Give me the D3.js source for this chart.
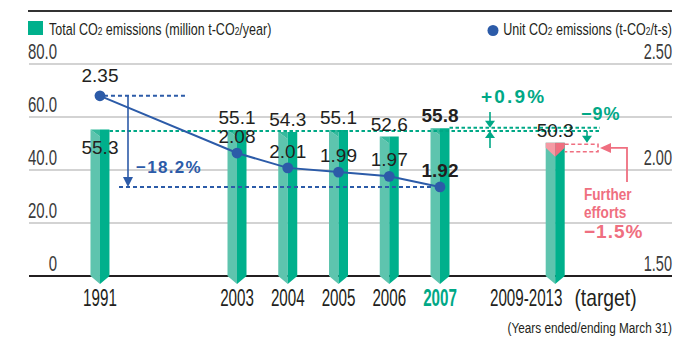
<!DOCTYPE html>
<html><head><meta charset="utf-8">
<script src="https://cdn.jsdelivr.net/npm/d3@7"></script>
<style>
html,body{margin:0;padding:0;background:#fff;}
svg{display:block;}
</style></head><body>
<svg id="chart" width="700" height="338"></svg>
<script>
// ---- data ----
const years = ["1991", "2003", "2004", "2005", "2006", "2007", "2009-2013"];
const totalEmissions = [55.3, 55.1, 54.3, 55.1, 52.6, 55.8, 50.3];
const unitEmissions = [2.35, 2.08, 2.01, 1.99, 1.97, 1.92];
const leftTicks = [0, 20, 40, 60, 80];
const leftTickLabels = ["0", "20.0", "40.0", "60.0", "80.0"];
const rightTicks = [1.5, 2.0, 2.5];
const rightTickLabels = ["1.50", "2.00", "2.50"];
const unitChangeLabel = "−18.2%";
const totalChangeLabel = "+0.9%";
const targetChangeLabel = "−9%";
const furtherEffortsLabel = "−1.5%";

// ---- layout ----
// position of each category along the axis, in units of one year step
const slot = [-2.7, 0, 1, 2, 3, 4, 6.27];
const SANS = '"Liberation Sans",Arial,sans-serif';
const GREEN_L = "#5ec4ae", GREEN_D = "#00b08c", GREEN_M = "#35b99c";
const GREEN_T = "#00a886";
const BLUE = "#2c5ba8";
const PINK = "#ef6f80", PINK_L = "#f59aa4";
const INK = "#231f20";

const svg = d3.select("#chart");
const x = d3.scaleLinear().domain([0, 4]).range([237, 440]);
const yL = d3.scaleLinear().domain([0, 80]).range([276, 64]);
const yR = d3.scaleLinear().domain([1.5, 2.5]).range([276, 64]);
const plotX0 = 29, plotX1 = 672;
const cx = i => x(slot[i]);
// horizontal squeeze giving a condensed face
const squeeze = (px, py, s) => `translate(${px},${py}) scale(${s},1)`;

function ctext(parent, px, py, size, s) {
  return parent.append("text").attr("transform", squeeze(px, py, s))
    .attr("font-family", SANS).attr("font-size", size);
}

// header rule
svg.append("line").attr("x1", 28).attr("x2", plotX1).attr("y1", 11).attr("y2", 11)
  .attr("stroke", "#333").attr("stroke-width", 2.2);

// legends
svg.append("rect").attr("x", 28).attr("y", 21).attr("width", 15).attr("height", 14).attr("fill", GREEN_D);
const lg1 = ctext(svg, 49, 34.5, 16.5, 0.76).attr("fill", INK);
lg1.append("tspan").text("Total CO");
lg1.append("tspan").attr("font-size", 11).text("2");
lg1.append("tspan").text(" emissions (million t-CO");
lg1.append("tspan").attr("font-size", 11).text("2");
lg1.append("tspan").text("/year)");

svg.append("circle").attr("cx", 493).attr("cy", 30.5).attr("r", 5.5).attr("fill", BLUE);
const lg2 = ctext(svg, plotX1, 34.5, 16.5, 0.76).attr("text-anchor", "end").attr("fill", INK);
lg2.append("tspan").text("Unit CO");
lg2.append("tspan").attr("font-size", 11).text("2");
lg2.append("tspan").text(" emissions (t-CO");
lg2.append("tspan").attr("font-size", 11).text("2");
lg2.append("tspan").text("/t-s)");

// gridlines
svg.append("g").selectAll("line").data(leftTicks.filter(d => d > 0)).join("line")
  .attr("x1", plotX0).attr("x2", plotX1)
  .attr("y1", d => yL(d)).attr("y2", d => yL(d))
  .attr("stroke", "#c4c4c4").attr("stroke-width", 1.3);

// left axis labels (sit above their gridline)
svg.append("g").selectAll("text").data(leftTicks).join("text")
  .attr("transform", d => squeeze(57, yL(d) - 5, 0.68)).attr("text-anchor", "end")
  .attr("font-family", SANS).attr("font-size", 22).attr("fill", "#3a3a3a")
  .text((d, i) => leftTickLabels[i]);

// right axis labels
svg.append("g").selectAll("text").data(rightTicks).join("text")
  .attr("transform", d => squeeze(plotX1, yR(d) - 5, 0.66)).attr("text-anchor", "end")
  .attr("font-family", SANS).attr("font-size", 22).attr("fill", "#3a3a3a")
  .text((d, i) => rightTickLabels[i]);

// baseline
svg.append("line").attr("x1", plotX0).attr("x2", plotX1).attr("y1", yL(0)).attr("y2", yL(0))
  .attr("stroke", INK).attr("stroke-width", 2.2);

// bars: two-tone prisms with a pointed foot
const hw = 9.5, bevel = 7, tip = 8;
const bars = svg.append("g").selectAll("g").data(totalEmissions).join("g");
bars.append("polygon").attr("fill", GREEN_L).attr("points", (d, i) => {
  const c = cx(i), t = yL(d), b = yL(0);
  return [[c - hw, t], [c, t + bevel], [c, b + tip], [c - hw, b]].join(" ");
});
bars.append("polygon").attr("fill", GREEN_D).attr("points", (d, i) => {
  const c = cx(i), t = yL(d), b = yL(0);
  return [[c, t], [c + hw, t], [c + hw, b], [c, b + tip]].join(" ");
});
bars.append("polygon").attr("fill", GREEN_M).attr("points", (d, i) => {
  const c = cx(i), t = yL(d);
  return [[c - hw, t], [c, t], [c, t + bevel]].join(" ");
});
// pink cap on the target bar
{
  const i = totalEmissions.length - 1, c = cx(i), t = yL(totalEmissions[i]);
  svg.append("polygon").attr("fill", PINK_L)
    .attr("points", [[c - hw, t], [c, t], [c, t + 14], [c - hw, t + 5]].join(" "));
  svg.append("polygon").attr("fill", PINK)
    .attr("points", [[c, t], [c + hw, t], [c + hw, t + 5], [c, t + 14]].join(" "));
}

// green reference lines (1991 level and 2007 level)
const iLast = 5, iTarget = 6;
svg.append("line")
  .attr("x1", cx(0) + hw).attr("x2", 600)
  .attr("y1", yL(totalEmissions[0]) + 1.5).attr("y2", yL(totalEmissions[0]) + 1.5)
  .attr("stroke", GREEN_T).attr("stroke-width", 2).attr("stroke-dasharray", "3.5 2.5");
svg.append("line")
  .attr("x1", cx(iLast) + hw).attr("x2", 600)
  .attr("y1", yL(totalEmissions[iLast]) - 0.5).attr("y2", yL(totalEmissions[iLast]) - 0.5)
  .attr("stroke", GREEN_T).attr("stroke-width", 2).attr("stroke-dasharray", "3.5 2.5");

// blue reference lines and arrow
const yU0 = yR(unitEmissions[0]), yU1 = yR(unitEmissions[iLast]);
svg.append("line").attr("x1", cx(0) + 4).attr("x2", 188).attr("y1", yU0).attr("y2", yU0)
  .attr("stroke", BLUE).attr("stroke-width", 2).attr("stroke-dasharray", "4 3");
svg.append("line").attr("x1", 119).attr("x2", cx(iLast) - 8).attr("y1", yU1).attr("y2", yU1)
  .attr("stroke", BLUE).attr("stroke-width", 2).attr("stroke-dasharray", "4 3");
svg.append("line").attr("x1", 128).attr("x2", 128).attr("y1", yU0).attr("y2", yU1 - 8)
  .attr("stroke", BLUE).attr("stroke-width", 1.6);
svg.append("polygon").attr("fill", BLUE)
  .attr("points", [[123, yU1 - 10], [133, yU1 - 10], [128, yU1]].join(" "));
svg.append("text").attr("x", 136).attr("y", yU1 - 14)
  .attr("font-family", SANS).attr("font-weight", "bold").attr("font-size", 17)
  .attr("letter-spacing", 1.3).attr("fill", BLUE).text(unitChangeLabel);

// unit emission line and points
const line = d3.line().x((d, i) => cx(i)).y(d => yR(d));
svg.append("path").datum(unitEmissions).attr("d", line)
  .attr("fill", "none").attr("stroke", BLUE).attr("stroke-width", 2);
svg.append("g").selectAll("circle").data(unitEmissions).join("circle")
  .attr("cx", (d, i) => cx(i)).attr("cy", d => yR(d)).attr("r", 5.4).attr("fill", BLUE);

// value labels
svg.append("g").selectAll("text").data(totalEmissions).join("text")
  .attr("x", (d, i) => cx(i))
  .attr("y", (d, i) => i === 0 ? yL(d) + 25 : yL(d) - 6)
  .attr("text-anchor", "middle").attr("font-family", SANS).attr("font-size", 19)
  .attr("font-weight", (d, i) => i === iLast ? "bold" : "normal")
  .attr("fill", INK).text(d => d.toFixed(1));
svg.append("g").selectAll("text").data(unitEmissions).join("text")
  .attr("x", (d, i) => cx(i))
  .attr("y", (d, i) => yR(d) - (i === 0 ? 14 : 10))
  .attr("text-anchor", "middle").attr("font-family", SANS).attr("font-size", 19)
  .attr("font-weight", (d, i) => i === iLast ? "bold" : "normal")
  .attr("fill", INK).text(d => d.toFixed(2));

// +0.9% marker
{
  const ax = 490, yTop = yL(totalEmissions[iLast]) - 0.5, yBot = yL(totalEmissions[0]) + 1.5;
  svg.append("line").attr("x1", ax).attr("x2", ax).attr("y1", 112).attr("y2", yTop - 5)
    .attr("stroke", GREEN_T).attr("stroke-width", 1.6);
  svg.append("polygon").attr("fill", GREEN_T)
    .attr("points", [[ax - 5, yTop - 7], [ax + 5, yTop - 7], [ax, yTop]].join(" "));
  svg.append("line").attr("x1", ax).attr("x2", ax).attr("y1", 148).attr("y2", yBot + 5)
    .attr("stroke", GREEN_T).attr("stroke-width", 1.6);
  svg.append("polygon").attr("fill", GREEN_T)
    .attr("points", [[ax - 5, yBot + 7], [ax + 5, yBot + 7], [ax, yBot]].join(" "));
  svg.append("text").attr("x", 481).attr("y", 103)
    .attr("font-family", SANS).attr("font-weight", "bold").attr("font-size", 19)
    .attr("letter-spacing", 2.2).attr("fill", GREEN_T).text(totalChangeLabel);
}

// -9% marker
{
  const ax = 587, yT = yL(totalEmissions[iTarget]);
  svg.append("line").attr("x1", ax).attr("x2", ax).attr("y1", 131).attr("y2", yT - 5)
    .attr("stroke", GREEN_T).attr("stroke-width", 1.6);
  svg.append("polygon").attr("fill", GREEN_T)
    .attr("points", [[ax - 5, yT - 7], [ax + 5, yT - 7], [ax, yT]].join(" "));
  svg.append("text").attr("x", 581).attr("y", 120)
    .attr("font-family", SANS).attr("font-weight", "bold").attr("font-size", 18)
    .attr("letter-spacing", 1).attr("fill", GREEN_T).text(targetChangeLabel);
}

// further efforts box and callout
{
  const c = cx(iTarget), yT = yL(totalEmissions[iTarget]);
  const bx0 = c + hw, bx1 = 598, by0 = yT + 1.5, by1 = yT + 9;
  svg.append("path")
    .attr("d", `M${bx0},${by0}H${bx1}V${by1}H${bx0}`)
    .attr("fill", "none").attr("stroke", PINK).attr("stroke-width", 1.6)
    .attr("stroke-dasharray", "4 2.5");
  const ay = (by0 + by1) / 2;
  svg.append("path").attr("d", `M627,182V${ay}H609`)
    .attr("fill", "none").attr("stroke", PINK).attr("stroke-width", 1.8);
  svg.append("polygon").attr("fill", PINK)
    .attr("points", [[600, ay], [611, ay - 5], [611, ay + 5]].join(" "));
  ctext(svg, 584, 200, 17, 0.8).attr("font-weight", "bold").attr("fill", PINK).text("Further");
  ctext(svg, 584, 218, 17, 0.8).attr("font-weight", "bold").attr("fill", PINK).text("efforts");
  svg.append("text").attr("x", 584).attr("y", 238)
    .attr("font-family", SANS).attr("font-weight", "bold").attr("font-size", 19)
    .attr("letter-spacing", 1).attr("fill", PINK).text(furtherEffortsLabel);
}

// category labels
svg.append("g").selectAll("text").data(years).join("text")
  .attr("transform", (d, i) => squeeze(i === iTarget ? cx(i) - 29 : cx(i), 306, 0.66))
  .attr("text-anchor", "middle")
  .attr("font-family", SANS).attr("font-size", 23)
  .attr("font-weight", (d, i) => i === iLast ? "bold" : "normal")
  .attr("fill", (d, i) => i === iLast ? GREEN_T : INK)
  .text(d => d);
ctext(svg, 605.5, 306, 23, 0.84).attr("text-anchor", "middle").attr("fill", INK).text("(target)");

ctext(svg, plotX1, 333, 15.5, 0.76).attr("text-anchor", "end").attr("fill", INK)
  .text("(Years ended/ending March 31)");
</script>
</body></html>
